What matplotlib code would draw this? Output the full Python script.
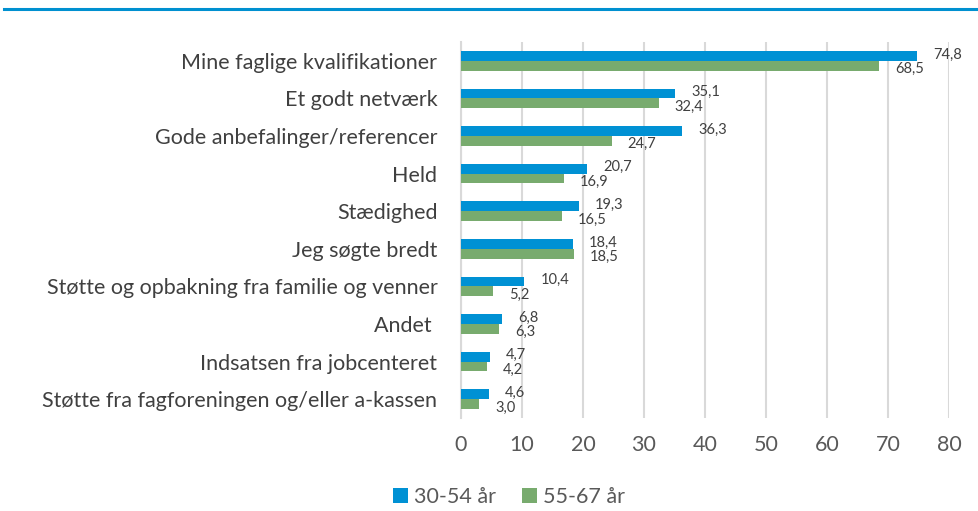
import numpy as np
from matplotlib import pyplot as plt
from matplotlib.lines import Line2D

categories = ['Mine faglige kvalifikationer', 'Et godt netværk', 'Gode anbefalinger/referencer',
              'Held', 'Stædighed', 'Jeg søgte bredt', 'Støtte og opbakning fra familie og venner',
              'Andet ', 'Indsatsen fra jobcenteret', 'Støtte fra fagforeningen og/eller a-kassen']
young = [74.8, 35.1, 36.3, 20.7, 19.3, 18.4, 10.4, 6.8, 4.7, 4.6]
old = [68.5, 32.4, 24.7, 16.9, 16.5, 18.5, 5.2, 6.3, 4.2, 3.0]
series_names = ['30-54 år', '55-67 år']
xticks = [0, 10, 20, 30, 40, 50, 60, 70, 80]

blue = '#0091d4'
green = '#78ab6e'
plt.rcParams['font.family'] = ['Lato', 'DejaVu Sans']

f = plt.figure(figsize=(9.79, 5.11), dpi=100)
ax = f.add_axes([461/979, 1-418/511, (949-461)/979, 376/511])

y = np.arange(len(categories))
h = 0.26
b1 = ax.barh(y - h/2, young, height=h, color=blue, label=series_names[0], zorder=3)
b2 = ax.barh(y + h/2, old, height=h, color=green, label=series_names[1], zorder=3)

# value labels, blue nudged up and green nudged down like the original
for yy, v in zip(y - h/2, young):
    ax.annotate('{:.1f}'.format(v).replace('.', ','), (v, yy), xytext=(11.5, 1),
                textcoords='offset points', va='center', ha='left', fontsize=10.5, color='#404040')
for yy, v in zip(y + h/2, old):
    ax.annotate('{:.1f}'.format(v).replace('.', ','), (v, yy), xytext=(11.5, -2.5),
                textcoords='offset points', va='center', ha='left', fontsize=10.5, color='#404040')

ax.set_xlim(0, 80)
ax.set_ylim(len(categories) - 0.5, -0.5)
ax.set_xticks(xticks)
ax.set_yticks(y)
ax.set_yticklabels(categories, fontsize=15.5, color='#404040')
ax.tick_params(axis='y', length=0, pad=17)
ax.tick_params(axis='x', length=0, pad=12, labelsize=15.5, labelcolor='#595959')
ax.grid(axis='x', color='#d9d9d9', linewidth=1.5, zorder=0)
for s in ['top', 'right', 'bottom']:
    ax.spines[s].set_visible(False)
ax.spines['left'].set_color('#d9d9d9')
ax.spines['left'].set_linewidth(1.5)

f.legend(handles=[b1, b2], loc='center', bbox_to_anchor=(509/979, 1-497/511), ncol=2,
         frameon=False, fontsize=15.5, labelcolor='#595959', handlelength=0.7, handleheight=0.7,
         handletextpad=0.3, columnspacing=1.2)

f.add_artist(Line2D([4/979, 1], [1-9.5/511, 1-9.5/511], color='#0090d0', linewidth=2.2))

plt.savefig('out.png', dpi=100)
